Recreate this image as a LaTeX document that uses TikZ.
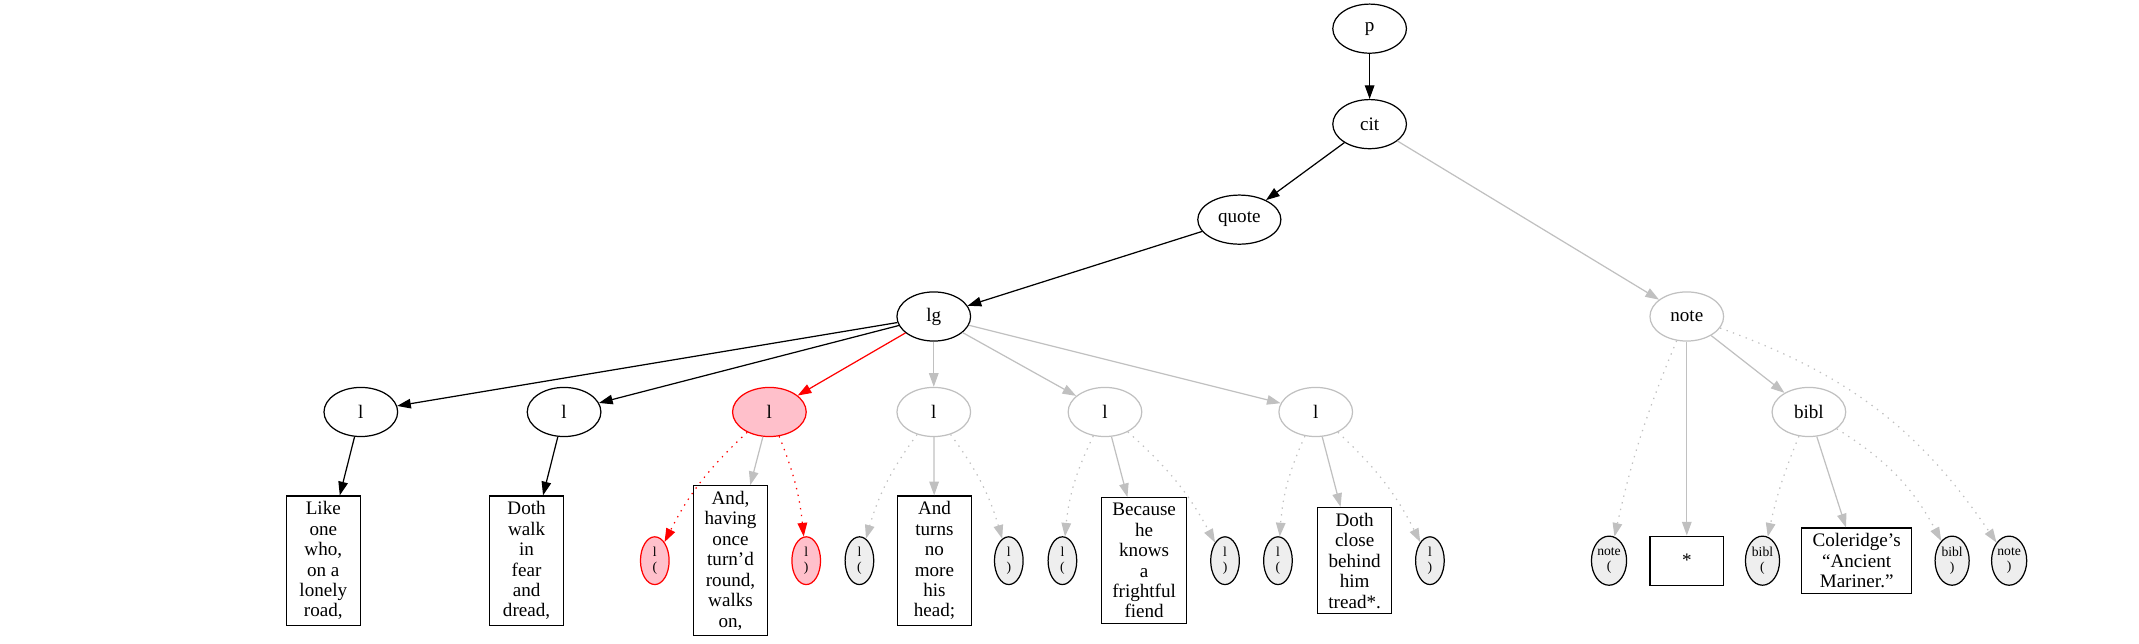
\documentclass[tikz,border=0pt]{standalone}
\usepackage{fontspec}
\setmainfont{Liberation Serif}
\usetikzlibrary{arrows.meta,shapes.geometric}
\definecolor{faint}{HTML}{C0C0C0}
\definecolor{markfill}{HTML}{EEEEEE}
\definecolor{hotfill}{HTML}{FFC0CB}
\tikzset{every picture/.style={x=1pt,y=-1pt,line width=0.9pt,>={Triangle[length=10pt,width=7pt]}},
  elem/.style={ellipse,draw,minimum width=54pt,minimum height=36pt,inner xsep=6pt,font=\fontsize{14}{15}\selectfont},
  bracket/.style={ellipse,draw,fill=markfill,minimum width=21pt,minimum height=35pt,inner sep=0.5pt,align=center,font=\fontsize{10}{11}\selectfont},
  verse/.style={rectangle,draw,minimum width=54pt,minimum height=36pt,inner xsep=8pt,inner ysep=4pt,align=center,font=\fontsize{14}{15}\selectfont},
  hot/.style={draw=red,fill=hotfill},
  faded/.style={draw=faint},
  dotted edge/.style={->,dash pattern=on 1pt off 4pt}}

\begin{document}
\begin{tikzpicture}
  \useasboundingbox (0,0) rectangle (1568,471.4);
  % tree
  \node[elem] (p) at (1004,21) {p};
  \node[elem] (cit) at (1004,91) {cit};
  \node[elem] (quote) at (908.5,161) {quote};
  \node[elem] (lg) at (684.5,232) {lg};
  \node[elem,faded] (note) at (1236.5,232) {note};
  \node[elem] (l1) at (264.5,302) {l};
  \node[elem] (l2) at (413.5,302) {l};
  \node[elem,hot] (l3) at (564,302) {l};
  \node[elem,faded] (l4) at (684.5,302) {l};
  \node[elem,faded] (l5) at (810,302) {l};
  \node[elem,faded] (l6) at (964.5,302) {l};
  \node[elem,faded] (bibl) at (1326,302) {bibl};
  % bottom row
  \node[verse] (t1) at (237,411) {Like\\one\\who,\\on a\\lonely\\road,};
  \node[verse] (t2) at (386,411) {Doth\\walk\\in\\fear\\and\\dread,};
  \node[bracket,hot] (l3o) at (480,411) {l\\(};
  \node[verse] (t3) at (535.5,411) {And,\\having\\once\\turn’d\\round,\\walks\\on,};
  \node[bracket,hot] (l3c) at (591,411) {l\\)};
  \node[bracket] (l4o) at (630,411) {l\\(};
  \node[verse] (t4) at (685,411) {And\\turns\\no\\more\\his\\head;};
  \node[bracket] (l4c) at (739.5,411) {l\\)};
  \node[bracket] (l5o) at (778.8,411) {l\\(};
  \node[verse] (t5) at (838.7,411) {Because\\he\\knows\\a\\frightful\\fiend};
  \node[bracket] (l5c) at (898,411) {l\\)};
  \node[bracket] (l6o) at (936.8,411) {l\\(};
  \node[verse] (t6) at (993,411) {Doth\\close\\behind\\him\\tread*.};
  \node[bracket] (l6c) at (1048.2,411) {l\\)};
  \node[bracket,minimum width=25pt,minimum height=36pt] (noteo) at (1179.5,411) {note\\(};
  \node[verse] (star) at (1236.5,411) {*};
  \node[bracket,minimum width=25pt,minimum height=36pt] (biblo) at (1292,411) {bibl\\(};
  \node[verse] (cole) at (1361,411) {Coleridge’s\\“Ancient\\Mariner.”};
  \node[bracket,minimum width=25pt,minimum height=36pt] (biblc) at (1431,411) {bibl\\)};
  \node[bracket,minimum width=25pt,minimum height=36pt] (notec) at (1472.8,411) {note\\)};

  \draw[->] (p) -- (cit);
  \draw[->] (cit) -- (quote);
  \draw[->,faint] (cit) -- (note);
  \draw[->] (quote) -- (lg);
  \draw[->] (lg) -- (l1);
  \draw[->] (lg) -- (l2);
  \draw[->,red] (lg) -- (l3);
  \draw[->] (l1) -- (t1);
  \draw[->] (l2) -- (t2);
  \draw[->,faint] (l3) -- (t3);
  \draw[dotted edge,red] (l3) to[bend right=10] (l3o);
  \draw[dotted edge,red] (l3) to[bend left=8] (l3c);
  \foreach \n in {4,5,6}{
    \draw[->,faint] (lg) -- (l\n);
    \draw[->,faint] (l\n) -- (t\n);
    \draw[dotted edge,faint] (l\n) to[bend right=10] (l\n o);
    \draw[dotted edge,faint] (l\n) to[bend left=10] (l\n c);
  }
  \draw[dotted edge,faint] (note) to[bend right=5] (noteo);
  \draw[->,faint] (note) -- (star);
  \draw[->,faint] (note) -- (bibl);
  \draw[dotted edge,faint] (note) to[bend left=18] (notec);
  \draw[dotted edge,faint] (bibl) to[bend right=5] (biblo);
  \draw[->,faint] (bibl) -- (cole);
  \draw[dotted edge,faint] (bibl) to[bend left=15] (biblc);
\end{tikzpicture}
\end{document}
